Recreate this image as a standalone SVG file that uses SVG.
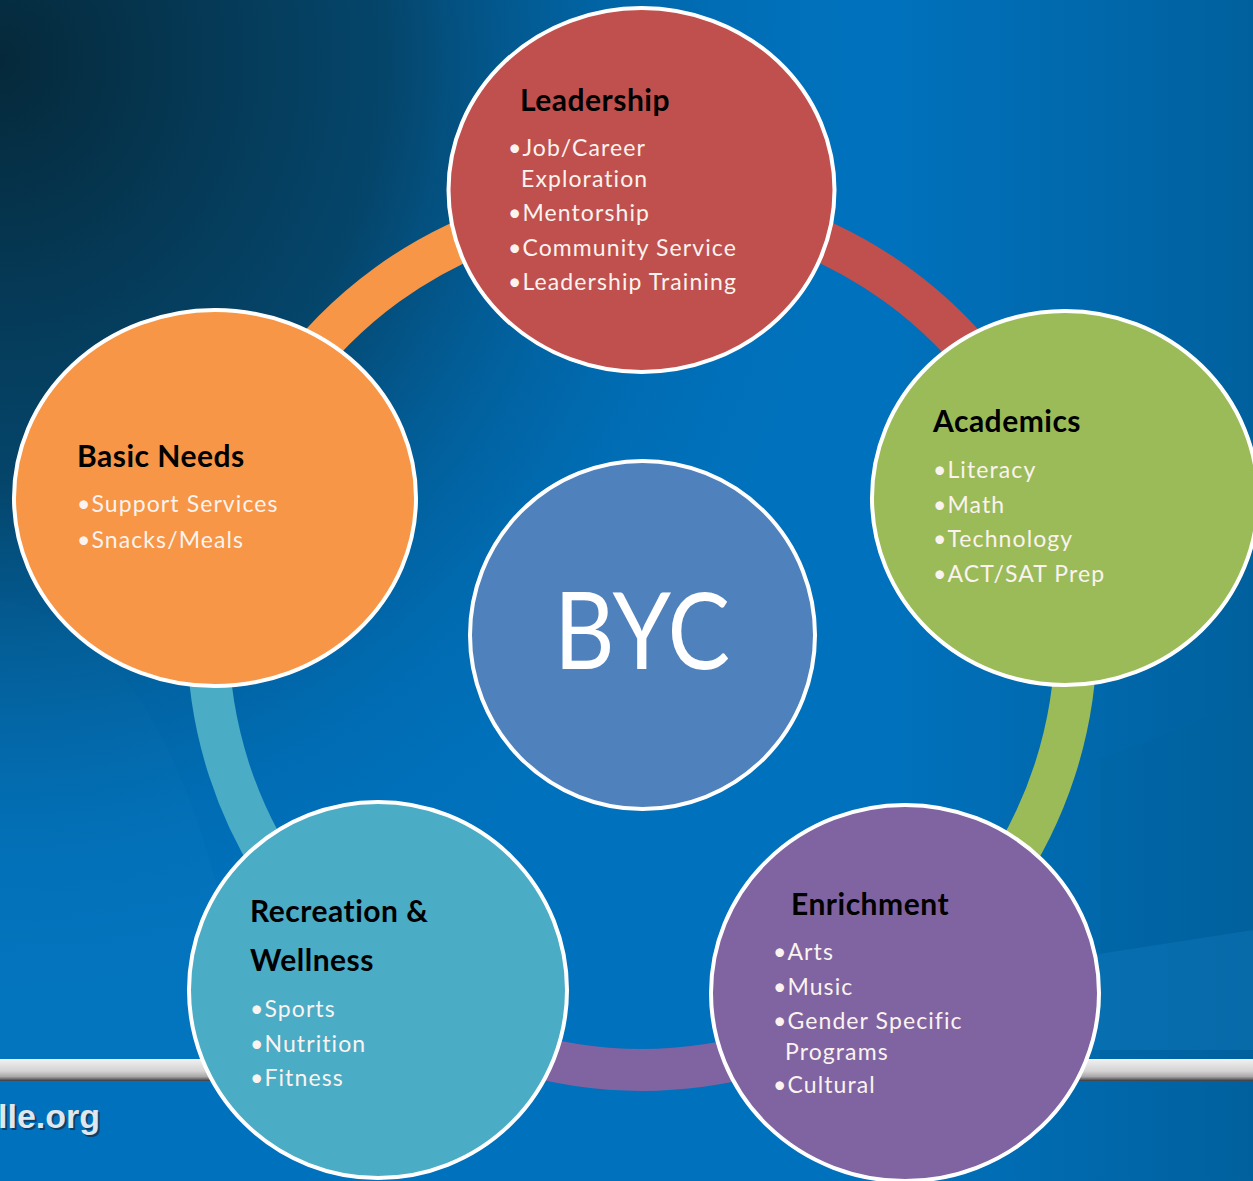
<svg xmlns="http://www.w3.org/2000/svg" width="1253" height="1181" viewBox="0 0 1253 1181">
<defs>
  <radialGradient id="dark" cx="0" cy="0" r="1" gradientUnits="userSpaceOnUse" gradientTransform="translate(0,60) scale(860,940)">
    <stop offset="0" stop-color="#05293a" stop-opacity="1"/>
    <stop offset="0.45" stop-color="#063a56" stop-opacity="0.8"/>
    <stop offset="1" stop-color="#0071bc" stop-opacity="0"/>
  </radialGradient>
  <linearGradient id="rightShade" x1="0" y1="0" x2="1" y2="0">
    <stop offset="0" stop-color="#00507f" stop-opacity="0"/>
    <stop offset="1" stop-color="#00507f" stop-opacity="0.5"/>
  </linearGradient>
  <linearGradient id="bar" x1="0" y1="0" x2="0" y2="1">
    <stop offset="0" stop-color="#f2f2f2"/>
    <stop offset="0.55" stop-color="#d4d2d2"/>
    <stop offset="0.8" stop-color="#a9a7a8"/>
    <stop offset="1" stop-color="#3a3a40"/>
  </linearGradient>
  <style>
    .node { stroke: #ffffff; stroke-width: 4; }
    .ring { fill: none; stroke-width: 42; }
    .hdr { font-family: Lato, "Open Sans", sans-serif; font-weight: 700; font-size: 30px; letter-spacing: 0.5px; fill: #000000; }
    .itm { font-family: Lato, "Open Sans", sans-serif; font-size: 23px; letter-spacing: 1.1px; fill: #fbf3ef; }
    .byc { font-family: Lato, "Open Sans", sans-serif; font-size: 106px; fill: #ffffff; text-anchor: middle; }
    .url { font-family: "Liberation Sans", Arial, sans-serif; font-weight: 700; font-size: 34px; }
  </style>
</defs>

<!-- background -->
<rect x="0" y="0" width="1253" height="1181" fill="#0071bc"/>
<path d="M0,600 C120,620 210,760 250,1060 L0,1060 Z" fill="#0a7cc4" opacity="0.3"/>
<rect x="900" y="0" width="353" height="1181" fill="url(#rightShade)"/>
<path d="M1100,760 L1253,700 L1253,1040 L1100,1060 Z" fill="#0062a0" opacity="0.3"/>
<path d="M1060,960 L1253,930 L1253,1050 L1080,1050 Z" fill="#1a86cc" opacity="0.25"/>
<rect x="0" y="0" width="1253" height="1181" fill="url(#dark)"/>

<!-- grey bar -->
<rect x="0" y="1059" width="1253" height="22" fill="url(#bar)"/>

<!-- url text -->
<text class="url" x="0" y="1130" fill="#16324d" opacity="0.8">lle.org</text>
<text class="url" x="-2" y="1128" fill="#dfe6ee">lle.org</text>

<!-- connectors (ring segments) -->
<g id="connectors">
  <path class="ring" stroke="#f79646" d="M229.2,501.9 A434,434 0 0 1 642,202"/>
  <path class="ring" stroke="#c0504d" d="M642,202 A434,434 0 0 1 1054.8,501.9"/>
  <path class="ring" stroke="#9bbb59" d="M1054.8,501.9 A434,434 0 0 1 897.1,987.1"/>
  <path class="ring" stroke="#8064a2" d="M897.1,987.1 A434,434 0 0 1 386.9,987.1"/>
  <path class="ring" stroke="#4bacc6" d="M386.9,987.1 A434,434 0 0 1 229.2,501.9"/>
</g>

<!-- Leadership -->
<g id="leadership">
  <ellipse class="node" cx="641.5" cy="190" rx="193" ry="182" fill="#c0504d"/>
  <text class="hdr" x="520" y="111">Leadership</text>
  <text class="itm" x="508" y="156">•Job/Career</text>
  <text class="itm" x="521" y="187">Exploration</text>
  <text class="itm" x="508" y="221">•Mentorship</text>
  <text class="itm" x="508" y="256">•Community Service</text>
  <text class="itm" x="508" y="290">•Leadership Training</text>
</g>

<!-- Academics -->
<g id="academics">
  <ellipse class="node" cx="1065" cy="498" rx="193" ry="187" fill="#9bbb59"/>
  <text class="hdr" x="933" y="432">Academics</text>
  <text class="itm" x="933" y="478">•Literacy</text>
  <text class="itm" x="933" y="513">•Math</text>
  <text class="itm" x="933" y="547">•Technology</text>
  <text class="itm" x="933" y="582">•ACT/SAT Prep</text>
</g>

<!-- Enrichment -->
<g id="enrichment">
  <ellipse class="node" cx="905" cy="993" rx="194" ry="188" fill="#8064a2"/>
  <text class="hdr" x="791" y="915">Enrichment</text>
  <text class="itm" x="773" y="960">•Arts</text>
  <text class="itm" x="773" y="995">•Music</text>
  <text class="itm" x="773" y="1029">•Gender Specific</text>
  <text class="itm" x="785" y="1060">Programs</text>
  <text class="itm" x="773" y="1093">•Cultural</text>
</g>

<!-- Recreation & Wellness -->
<g id="recreation">
  <ellipse class="node" cx="378" cy="990" rx="189" ry="188" fill="#4bacc6"/>
  <text class="hdr" x="250" y="922">Recreation &amp;</text>
  <text class="hdr" x="250" y="971">Wellness</text>
  <text class="itm" x="250" y="1017">•Sports</text>
  <text class="itm" x="250" y="1052">•Nutrition</text>
  <text class="itm" x="250" y="1086">•Fitness</text>
</g>

<!-- Basic Needs -->
<g id="basic-needs">
  <ellipse class="node" cx="215" cy="498" rx="201" ry="188" fill="#f79646"/>
  <text class="hdr" x="77" y="467">Basic Needs</text>
  <text class="itm" x="77" y="512">•Support Services</text>
  <text class="itm" x="77" y="548">•Snacks/Meals</text>
</g>

<!-- BYC center -->
<g id="byc">
  <ellipse class="node" cx="642.5" cy="635" rx="172.5" ry="174" fill="#4f81bd"/>
  <text class="byc" x="642" y="669" textLength="176" lengthAdjust="spacingAndGlyphs">BYC</text>
</g>
</svg>
